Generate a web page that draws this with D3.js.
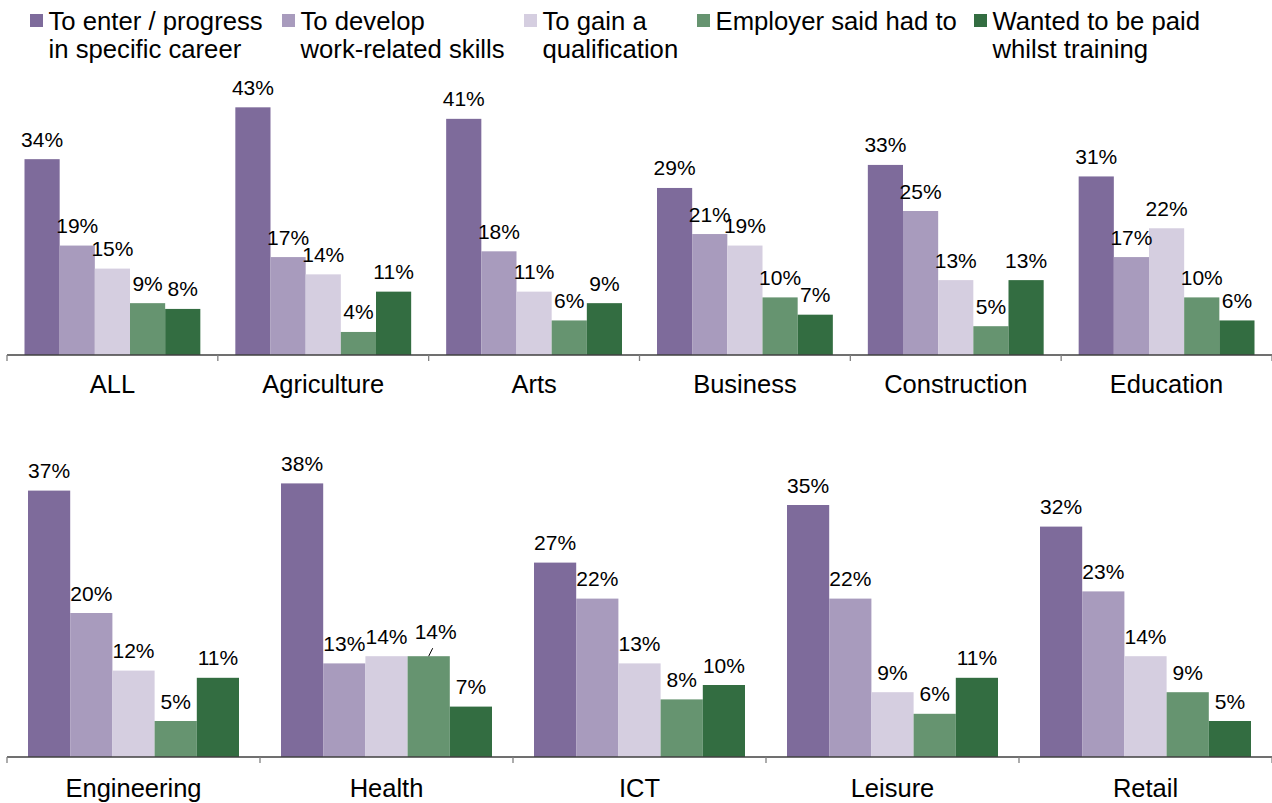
<!DOCTYPE html>
<html>
<head>
<meta charset="utf-8">
<script src="https://cdn.jsdelivr.net/npm/d3@7"></script>
<style>
  html, body { margin: 0; padding: 0; background: #fff; }
  svg { display: block; font-family: "Liberation Sans", Arial, sans-serif; }
</style>
</head>
<body>
<svg id="chart" width="1272" height="803"></svg>
<script>
// ---- data ----
const seriesNames = [
  "To enter / progress in specific career",
  "To develop work-related skills",
  "To gain a qualification",
  "Employer said had to",
  "Wanted to be paid whilst training"
];
const legendLines = [
  ["To enter / progress", "in specific career"],
  ["To develop", "work-related skills"],
  ["To gain a", "qualification"],
  ["Employer said had to"],
  ["Wanted to be paid", "whilst training"]
];
const topCategories = ["ALL", "Agriculture", "Arts", "Business", "Construction", "Education"];
const bottomCategories = ["Engineering", "Health", "ICT", "Leisure", "Retail"];

const enterCareer   = [34, 43, 41, 29, 33, 31, 37, 38, 27, 35, 32];
const developSkills = [19, 17, 18, 21, 25, 17, 20, 13, 22, 22, 23];
const gainQual      = [15, 14, 11, 19, 13, 22, 12, 14, 13, 9, 14];
const employerSaid  = [9, 4, 6, 10, 5, 10, 5, 14, 8, 6, 9];
const wantedPaid    = [8, 11, 9, 7, 13, 6, 11, 7, 10, 11, 5];

const topMax = 50;     // axis maximum, top panel (%)
const bottomMax = 40;  // axis maximum, bottom panel (%)

// ---- styles / layout ----
const colors = ["#7e6b9b", "#a89bbd", "#d5cee0", "#669470", "#336d41"];
const legendX = [30, 282, 524, 697, 974];
const allCategories = topCategories.concat(bottomCategories);
const seriesValues = [enterCareer, developSkills, gainQual, employerSaid, wantedPaid];

const svg = d3.select("#chart");

// legend
const legend = svg.append("g");
legendLines.forEach((lines, i) => {
  const g = legend.append("g").attr("transform", `translate(${legendX[i]},0)`);
  g.append("rect").attr("x", 0).attr("y", 14).attr("width", 13).attr("height", 13).attr("fill", colors[i]);
  const t = g.append("text").attr("x", 18.5).attr("y", 30).attr("font-size", 25.7).attr("fill", "#000");
  lines.forEach((ln, j) => {
    t.append("tspan").attr("x", 18.5).attr("dy", j === 0 ? 0 : 28).text(ln);
  });
});

function panel(cats, yMax, x0, x1, yBase, yTop, labelY) {
  const x = d3.scaleBand().domain(cats).range([x0, x1]).padding(0);
  const bw = x.bandwidth();
  const pad = bw * 0.083;
  const xs = d3.scaleBand().domain(d3.range(seriesNames.length)).range([pad, bw - pad]).padding(0);
  const y = d3.scaleLinear().domain([0, yMax]).range([yBase, yTop]);

  const g = svg.append("g");
  cats.forEach(cat => {
    const ci = allCategories.indexOf(cat);
    const cg = g.append("g").attr("transform", `translate(${x(cat)},0)`);
    const rows = seriesValues.map((arr, si) => ({ si, v: arr[ci] }));
    cg.selectAll("rect").data(rows).join("rect")
      .attr("x", d => xs(d.si))
      .attr("width", xs.bandwidth())
      .attr("y", d => y(d.v))
      .attr("height", d => y(0) - y(d.v))
      .attr("fill", d => colors[d.si]);
    rows.forEach(d => {
      const cx = xs(d.si) + xs.bandwidth() / 2;
      let dx = 0, dy = 0;
      // Health / Employer label nudged with a leader line (as in the original)
      if (cat === "Health" && d.si === 3) {
        dx = 7; dy = -5;
        cg.append("line")
          .attr("x1", cx + 4).attr("y1", y(d.v) - 8)
          .attr("x2", cx).attr("y2", y(d.v))
          .attr("stroke", "#000").attr("stroke-width", 1);
      }
      cg.append("text")
        .attr("x", cx + dx).attr("y", y(d.v) - 12.5 + dy)
        .attr("text-anchor", "middle").attr("font-size", 21).attr("fill", "#000")
        .text(d.v + "%");
    });
  });

  // axis
  const axis = d3.axisBottom(x).tickSize(0).tickFormat("");
  const ag = svg.append("g").attr("transform", `translate(0,${yBase})`).call(axis);
  ag.select(".domain").attr("stroke", "#404040").attr("stroke-width", 1.3)
    .attr("d", `M${x0},0H${x1}`);
  ag.selectAll(".tick").remove();
  const bounds = cats.map(c => x(c)).concat([x1]);
  ag.selectAll("line.sep").data(bounds).join("line").attr("class", "sep")
    .attr("x1", d => d).attr("x2", d => d).attr("y1", 0).attr("y2", 6)
    .attr("stroke", "#808080").attr("stroke-width", 1.3);
  svg.append("g").selectAll("text").data(cats).join("text")
    .attr("x", d => x(d) + bw / 2).attr("y", labelY)
    .attr("text-anchor", "middle").attr("font-size", 25.5).attr("fill", "#000")
    .text(d => d);
}

panel(topCategories, topMax, 7, 1272, 355, 67, 393);
panel(bottomCategories, bottomMax, 7, 1272, 757, 469, 797);
</script>
</body>
</html>
